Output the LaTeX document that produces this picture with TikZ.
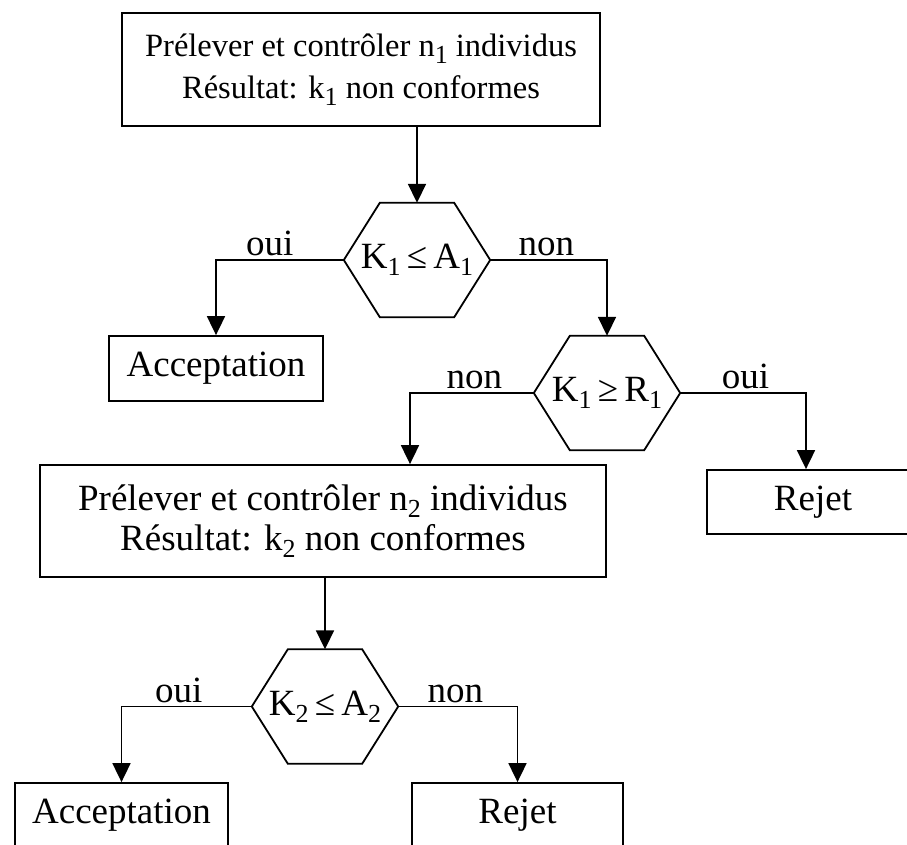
\documentclass[tikz,border=0pt]{standalone}
\usepackage{fontspec}
\setmainfont{Liberation Serif}
\usetikzlibrary{arrows.meta}

\newcommand{\ix}[1]{\raisebox{-7pt}{\fontsize{26}{26}\selectfont #1}}
\newcommand{\hexa}[1]{\draw[trait] ([xshift=36pt]#1.north west) -- ([xshift=-36pt]#1.north east) -- (#1.east) -- ([xshift=-36pt]#1.south east) -- ([xshift=36pt]#1.south west) -- (#1.west) -- cycle;}

\tikzset{
  trait/.style={line width=1.8pt},
  fleche/.style={trait, -{Triangle[width=18pt,length=19pt]}},
  boite/.style={draw, trait, align=center, inner sep=0pt},
  test/.style={minimum width=146pt, minimum height=114pt, inner sep=0pt},
  lab/.style={above, inner sep=3pt, pos=0.24}
}

\begin{document}
\begin{tikzpicture}[x=1pt, y=-1pt, font=\fontsize{37}{40}\selectfont]
\useasboundingbox (0,0) rectangle (907,844);
\clip (0,0) rectangle (907,844);

\node[boite, minimum width=478pt, minimum height=113pt, font=\fontsize{32.5}{42}\selectfont] (tir1) at (361,69.5)
  {Prélever et contrôler n\ix{1} individus\\Résultat: k\ix{1} non conformes};
\node[test] (k1) at (417,260) {K\ix{1}\,≤\,A\ix{1}};
\node[boite, minimum width=214pt, minimum height=65pt] (acc1) at (216,368.5) {Acceptation};
\node[test] (k2) at (607,393) {K\ix{1}\,≥\,R\ix{1}};
\node[boite, minimum width=212pt, minimum height=64pt] (rej1) at (813,502) {Rejet};
\node[boite, minimum width=566pt, minimum height=112pt] (tir2) at (323,521)
  {Prélever et contrôler n\ix{2} individus\\Résultat: k\ix{2} non conformes};
\node[test] (k3) at (325,706.5) {K\ix{2}\,≤\,A\ix{2}};
\node[boite, minimum width=213pt, minimum height=65pt] (acc2) at (121.5,815.5) {Acceptation};
\node[boite, minimum width=211pt, minimum height=65pt] (rej2) at (517.5,815.5) {Rejet};

\hexa{k1}
\hexa{k2}
\hexa{k3}

\draw[fleche] (k1.north |- tir1.south) -- (k1.north);
\draw[fleche] (k1.west) -| node[lab, pos=0.29] {oui} (acc1.north);
\draw[fleche] (k1.east) -| node[lab] {non} (k2.north);
\draw[fleche] (k2.west) -| node[lab] {non} ([xshift=87pt]tir2.north);
\draw[fleche] (k2.east) -| node[lab, pos=0.26] {oui} ([xshift=-7pt]rej1.north);
\draw[fleche] (k3.north |- tir2.south) -- (k3.north);
\draw[fleche] (k3.west) -| node[lab, pos=0.28] {oui} (acc2.north);
\draw[fleche] (k3.east) -| node[lab] {non} (rej2.north);
\end{tikzpicture}
\end{document}
